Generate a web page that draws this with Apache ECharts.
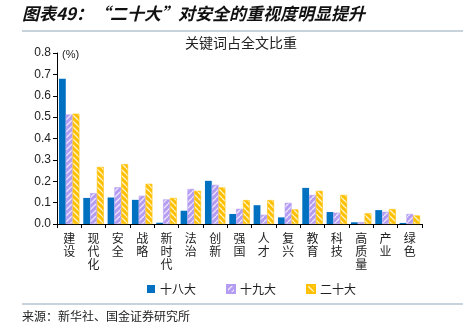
<!DOCTYPE html>
<html><head><meta charset="utf-8">
<script src="https://cdn.jsdelivr.net/npm/echarts@6/dist/echarts.min.js"></script>
<style>html,body{margin:0;padding:0;background:#fff}#c{width:463px;height:329px}</style>
</head><body><div id="c"></div>
<script>
var categories = ['建设','现代化','安全','战略','新时代','法治','创新','强国','人才','复兴','教育','科技','高质量','产业','绿色'];
var s18 = [0.68,0.122,0.124,0.113,0.006,0.062,0.202,0.047,0.088,0.031,0.169,0.056,0.008,0.065,0.005];
var s19 = [0.512,0.144,0.172,0.132,0.115,0.164,0.183,0.071,0.043,0.099,0.136,0.053,0.009,0.057,0.047];
var s20 = [0.516,0.267,0.28,0.188,0.122,0.155,0.171,0.112,0.112,0.068,0.155,0.136,0.05,0.07,0.04];
var seriesNames = ['十八大','十九大','二十大'];
var yTicks = ['0.0','0.1','0.2','0.3','0.4','0.5','0.6','0.7','0.8'];

function stripe(bg, fg, dir){
  var c = document.createElement('canvas'); c.width = 6; c.height = 6;
  var g = c.getContext('2d');
  g.fillStyle = bg; g.fillRect(0,0,6,6);
  g.strokeStyle = fg; g.lineWidth = 1.3;
  for (var k=-6;k<=12;k+=6){
    g.beginPath();
    if (dir>0){ g.moveTo(k,6); g.lineTo(k+6,0); }
    else { g.moveTo(k,0); g.lineTo(k+6,6); }
    g.stroke();
  }
  return {image:c, repeat:'repeat'};
}
var purplePat = stripe('#b49cf2','#ece6ff',1);
var yellowPat = stripe('#ffc000','#fff3cc',-1);

var chart = echarts.init(document.getElementById('c'));
var font = 'Liberation Sans, Arial, sans-serif';
var cjk = '"Noto Sans CJK SC", sans-serif';
chart.setOption({
  animation:false,
  textStyle:{fontFamily:cjk},
  graphic:[
    {type:'text', left:22, top:5, style:{text:'图表49：“二十大”对安全的重视度明显提升', font:'italic bold 17px "Noto Sans CJK SC"', fill:'#111'}},
    {type:'line', shape:{x1:22,y1:31,x2:463,y2:31}, style:{stroke:'#8fa6b8', lineWidth:1}},
    {type:'line', shape:{x1:22,y1:304,x2:463,y2:304}, style:{stroke:'#8fa6b8', lineWidth:1}},
    {type:'text', left:22, top:310, style:{text:'来源：新华社、国金证券研究所', font:'12px "Noto Sans CJK SC"', fill:'#222'}},
    {type:'text', left:62, top:49, style:{text:'(%)', font:'11px "Liberation Sans"', fill:'#222'}},
    {type:'text', left:185, top:36, style:{text:'关键词占全文比重', font:'14px "Noto Sans CJK SC"', fill:'#222'}}
  ],
  grid:{left:57, right:41, top:53, bottom:105},
  legend:{
    data:[{name:'十八大'},{name:'十九大'},{name:'二十大'}],
    left:142, top:278, itemWidth:8, itemHeight:8, itemGap:30,
    icon:'rect',
    textStyle:{fontSize:12, color:'#222', fontFamily:cjk}
  },
  xAxis:{
    type:'category', data:categories,
    axisLine:{lineStyle:{color:'#000'}},
    axisTick:{show:true, alignWithLabel:false, length:4, lineStyle:{color:'#000'}},
    axisLabel:{interval:0, color:'#222', fontSize:12, lineHeight:13, margin:8,
      formatter:function(v){return v.split('').join('\n');}}
  },
  yAxis:{
    type:'value', min:0, max:0.8, interval:0.1,
    axisLine:{show:true, lineStyle:{color:'#000'}},
    axisTick:{show:true, length:4, lineStyle:{color:'#000'}},
    splitLine:{show:false},
    axisLabel:{color:'#222', fontSize:12, fontFamily:font, margin:6,
      formatter:function(v){return yTicks[Math.round(v*10)];}}
  },
  series:[
    {name:seriesNames[0], type:'bar', data:s18, barGap:'0%', barCategoryGap:'16%', itemStyle:{color:'#0070c0'}},
    {name:seriesNames[1], type:'bar', data:s19, itemStyle:{color:purplePat, borderColor:'#b49cf2', borderWidth:0.6}},
    {name:seriesNames[2], type:'bar', data:s20, itemStyle:{color:yellowPat, borderColor:'#ffc000', borderWidth:0.6}}
  ]
});
</script></body></html>
